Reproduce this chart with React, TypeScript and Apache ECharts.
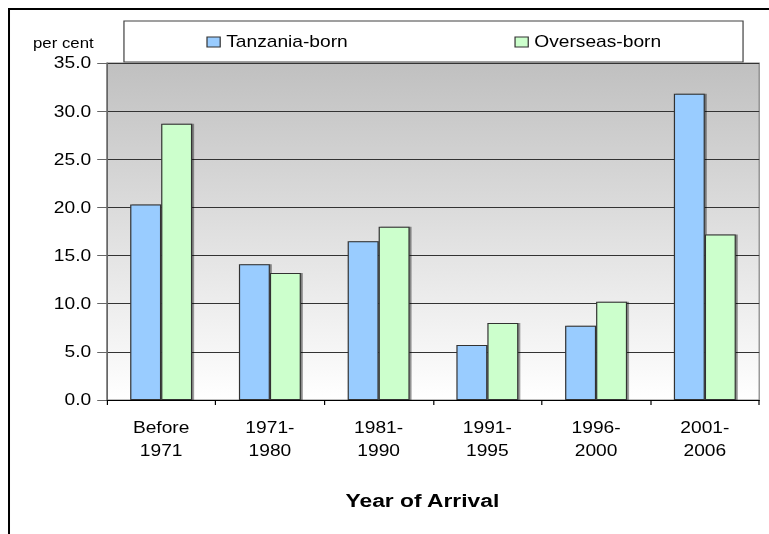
import React, { useEffect, useRef } from "react";
import * as echarts from "echarts";

const categories = ["Before\n1971", "1971-\n1980", "1981-\n1990", "1991-\n1995", "1996-\n2000", "2001-\n2006"];
const tanzaniaBorn = [20.3, 14.1, 16.5, 5.7, 7.7, 31.8];
const overseasBorn = [28.7, 13.2, 18.0, 8.0, 10.2, 17.2];
const seriesNames = ["Tanzania-born", "Overseas-born"];
const yMin = 0;
const yMax = 35;
const yInterval = 5;

const SX = 1.2;
const W = 769 / SX;
const FONT = "'Liberation Sans', Arial, sans-serif";

export default function App() {
  const ref = useRef<HTMLDivElement>(null);
  useEffect(() => {
    if (!ref.current) return;
    const chart = echarts.init(ref.current, undefined, { renderer: "svg" });
    const barStyle = (color: string) => ({
      color,
      borderColor: "#333",
      borderWidth: 1,
      shadowColor: "rgba(0,0,0,0.45)",
      shadowOffsetX: 1.5,
      shadowOffsetY: 0,
      shadowBlur: 0,
    });
    chart.setOption({
      animation: false,
      backgroundColor: "#ffffff",
      textStyle: { fontFamily: FONT },
      grid: {
        left: 89,
        right: W - 632.5,
        top: 63,
        bottom: 134,
        show: true,
        borderColor: "#808080",
        borderWidth: 1,
        backgroundColor: {
          type: "linear",
          x: 0,
          y: 0,
          x2: 0,
          y2: 1,
          colorStops: [
            { offset: 0, color: "#c0c0c0" },
            { offset: 1, color: "#ffffff" },
          ],
        },
      },
      legend: {
        data: seriesNames,
        left: 172,
        top: 34,
        padding: 0,
        itemGap: 138.8,
        itemWidth: 11,
        itemHeight: 10,
        icon: "rect",
        itemStyle: { borderColor: "#333", borderWidth: 1 },
        textStyle: { fontFamily: FONT, fontSize: 16, color: "#000", lineHeight: 16 },
      },
      xAxis: {
        type: "category",
        data: categories,
        axisLine: { show: true, lineStyle: { color: "#000", width: 1 } },
        axisTick: { show: true, alignWithLabel: false, length: 5, lineStyle: { color: "#000" } },
        axisLabel: {
          fontFamily: FONT,
          fontSize: 16,
          lineHeight: 23,
          color: "#000",
          margin: 16,
          interval: 0,
        },
        splitLine: { show: false },
      },
      yAxis: {
        type: "value",
        min: yMin,
        max: yMax,
        interval: yInterval,
        axisLine: { show: true, lineStyle: { color: "#666", width: 1 } },
        axisTick: { show: true, length: 8, lineStyle: { color: "#666" } },
        axisLabel: {
          fontFamily: FONT,
          fontSize: 16,
          color: "#000",
          margin: 13,
          formatter: (v: number) => v.toFixed(1),
        },
        splitLine: { show: true, lineStyle: { color: "#333", width: 1 } },
      },
      graphic: [
        { type: "rect", shape: { x: 6.67, y: 8, width: W, height: 2 }, style: { fill: "#000" }, silent: true },
        { type: "rect", shape: { x: 6.67, y: 8, width: 1.67, height: 530 }, style: { fill: "#000" }, silent: true },
        {
          type: "rect",
          shape: { x: 103.3, y: 21, width: 515.9, height: 41 },
          style: { fill: "#fff", stroke: "#404040", lineWidth: 1 },
          silent: true,
          z: -1,
        },
        {
          type: "text",
          x: 27.5,
          y: 43,
          style: { text: "per cent", fontFamily: FONT, fontSize: 14, fill: "#000", textVerticalAlign: "middle" },
          silent: true,
        },
        {
          type: "text",
          x: 352,
          y: 500,
          style: {
            text: "Year of Arrival",
            fontFamily: FONT,
            fontSize: 19,
            fontWeight: "bold",
            fill: "#000",
            textAlign: "center",
            textVerticalAlign: "middle",
          },
          silent: true,
        },
      ],
      series: [
        {
          name: seriesNames[0],
          type: "bar",
          data: tanzaniaBorn,
          barGap: "0%",
          barCategoryGap: "43%",
          itemStyle: barStyle("#99ccff"),
        },
        {
          name: seriesNames[1],
          type: "bar",
          data: overseasBorn,
          barGap: "0%",
          barCategoryGap: "43%",
          itemStyle: barStyle("#ccffcc"),
        },
      ],
    });
    return () => chart.dispose();
  }, []);
  return (
    <div
      ref={ref}
      style={{
        position: "fixed",
        left: 0,
        top: 0,
        width: W,
        height: 534,
        transform: `scaleX(${SX})`,
        transformOrigin: "0 0",
      }}
    />
  );
}
